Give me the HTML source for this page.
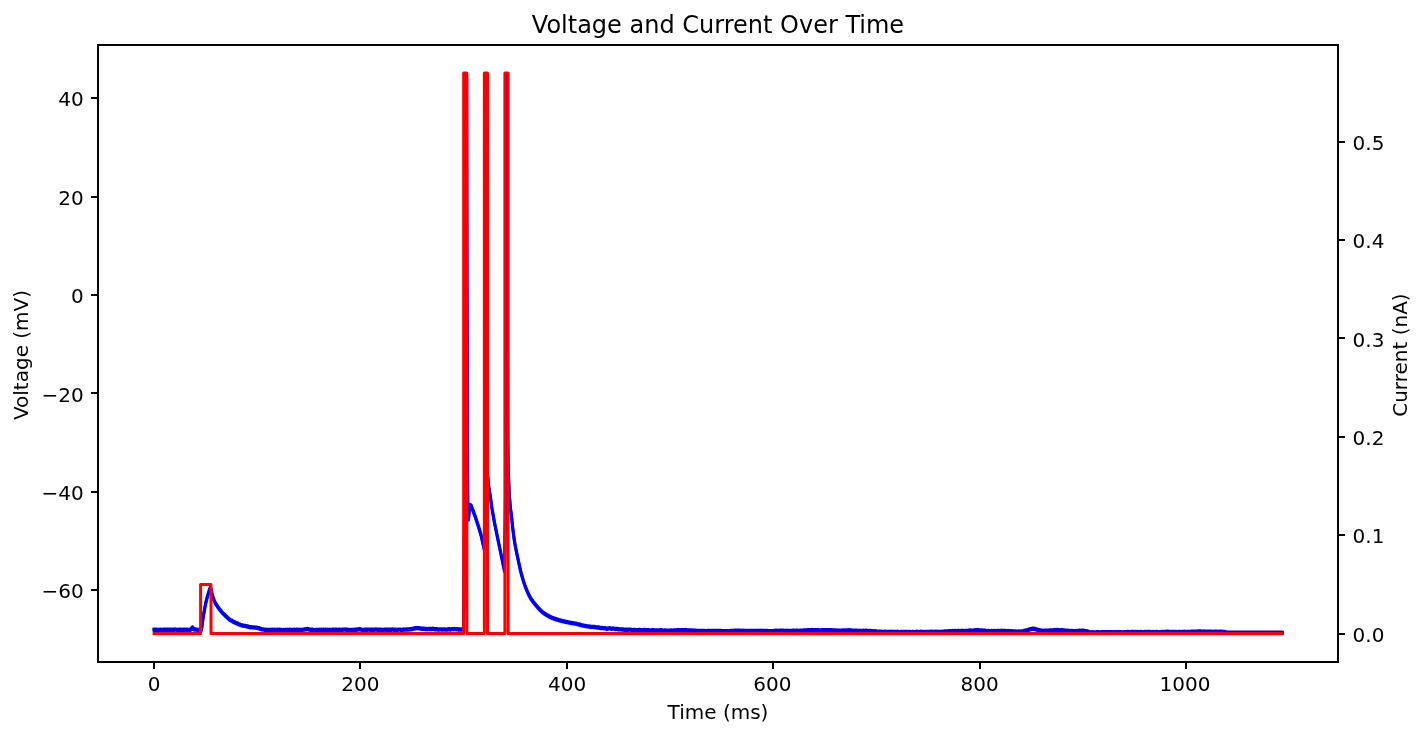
<!DOCTYPE html>
<html lang="en"><head><meta charset="utf-8"><title>Voltage and Current Over Time</title>
<style>
html,body{margin:0;padding:0;background:#fff;}
body{width:1425px;height:736px;overflow:hidden;}
svg{display:block;}
text{font-family:"DejaVu Sans","Liberation Sans",sans-serif;fill:#000;}
.tk{font-size:20px;}
.ttl{font-size:24px;}
.ax{stroke:#000;stroke-width:2;fill:none;}
</style></head><body>
<svg width="1425" height="736" viewBox="0 0 1425 736">
<rect x="0" y="0" width="1425" height="736" fill="#fff"/>
<g class="ax">
<line x1="154" y1="662.0" x2="154" y2="669.0"/>
<line x1="360" y1="662.0" x2="360" y2="669.0"/>
<line x1="567" y1="662.0" x2="567" y2="669.0"/>
<line x1="773" y1="662.0" x2="773" y2="669.0"/>
<line x1="980" y1="662.0" x2="980" y2="669.0"/>
<line x1="1186" y1="662.0" x2="1186" y2="669.0"/>
<line x1="91.0" y1="98" x2="98.0" y2="98"/>
<line x1="91.0" y1="197" x2="98.0" y2="197"/>
<line x1="91.0" y1="295" x2="98.0" y2="295"/>
<line x1="91.0" y1="393" x2="98.0" y2="393"/>
<line x1="91.0" y1="492" x2="98.0" y2="492"/>
<line x1="91.0" y1="590" x2="98.0" y2="590"/>
<line x1="1338.0" y1="142" x2="1345.0" y2="142"/>
<line x1="1338.0" y1="240" x2="1345.0" y2="240"/>
<line x1="1338.0" y1="338" x2="1345.0" y2="338"/>
<line x1="1338.0" y1="437" x2="1345.0" y2="437"/>
<line x1="1338.0" y1="535" x2="1345.0" y2="535"/>
<line x1="1338.0" y1="634" x2="1345.0" y2="634"/>
</g>
<g class="tk">
<text x="154" y="690.7" text-anchor="middle">0</text>
<text x="360.4" y="690.7" text-anchor="middle">200</text>
<text x="567.2" y="690.7" text-anchor="middle">400</text>
<text x="772.4" y="690.7" text-anchor="middle">600</text>
<text x="979.6" y="690.7" text-anchor="middle">800</text>
<text x="1185" y="690.7" text-anchor="middle">1000</text>
<text x="83.7" y="105.6" text-anchor="end">40</text>
<text x="83.7" y="204.6" text-anchor="end">20</text>
<text x="83.7" y="302.6" text-anchor="end">0</text>
<text x="83.7" y="401.6" text-anchor="end">−20</text>
<text x="83.7" y="499.6" text-anchor="end">−40</text>
<text x="83.7" y="597.6" text-anchor="end">−60</text>
<text x="1352.6" y="149.6" text-anchor="start">0.5</text>
<text x="1352.6" y="247.6" text-anchor="start">0.4</text>
<text x="1352.6" y="346.6" text-anchor="start">0.3</text>
<text x="1352.6" y="444.6" text-anchor="start">0.2</text>
<text x="1352.6" y="542.6" text-anchor="start">0.1</text>
<text x="1352.6" y="641.6" text-anchor="start">0.0</text>
<text x="718" y="718.5" text-anchor="middle">Time (ms)</text>
<text transform="translate(28,355) rotate(-90)" text-anchor="middle">Voltage (mV)</text>
<text transform="translate(1406.7,355.1) rotate(-90)" text-anchor="middle">Current (nA)</text>
</g>
<text class="ttl" x="718" y="33" text-anchor="middle">Voltage and Current Over Time</text>
<g fill="none" stroke="#0000ff" stroke-width="3" stroke-linejoin="round" stroke-linecap="square">
<polyline transform="translate(0,-0.7)" points="154.0,629.7 154.5,629.6 155.0,629.7 155.5,629.7 156.1,629.7 156.6,629.7 157.1,629.8 157.6,629.9 158.1,629.9 158.6,629.9 159.2,629.8 159.7,629.9 160.2,629.8 160.7,629.8 161.2,629.8 161.7,629.9 162.3,630.0 162.8,629.9 163.3,629.7 163.8,629.7 164.3,629.8 164.8,629.8 165.4,629.8 165.9,629.8 166.4,629.8 166.9,629.8 167.4,629.7 167.9,629.9 168.4,629.9 169.0,629.8 169.5,629.8 170.0,629.8 170.5,629.8 171.0,629.8 171.5,629.7 172.1,629.7 172.6,629.7 173.1,629.8 173.6,629.8 174.1,629.8 174.6,629.6 175.2,629.5 175.7,629.6 176.2,629.7 176.7,629.8 177.2,629.9 177.7,629.9 178.3,629.8 178.8,629.8 179.3,629.8 179.8,629.7 180.3,629.7 180.8,629.7 181.3,629.8 181.9,629.9 182.4,629.8 182.9,629.8 183.4,629.8 183.9,629.8 184.4,629.8 185.0,629.9 185.5,629.8 186.0,629.7 186.5,629.7 187.0,629.9 187.5,629.8 188.1,629.8 188.6,629.9 189.1,629.9 189.6,629.8 190.1,629.8 190.6,629.7 191.2,629.2 191.7,628.3 192.2,627.6 192.7,627.5 193.2,628.3 193.7,629.1 194.2,629.6 194.8,629.6 195.3,629.5 195.8,629.5 196.3,629.6 196.8,629.6 197.3,629.8 197.9,630.0 198.4,630.0 198.9,629.9 199.4,629.7 199.9,629.5 200.4,629.4 201.0,629.5 201.5,629.7 202.0,625.8 202.5,622.0 203.0,618.4 203.5,615.1 204.1,612.1 204.6,609.2 205.1,606.4 205.6,603.8 206.1,601.6 206.6,599.6 207.1,597.7 207.7,595.7 208.2,593.8 208.7,592.2 209.2,590.7 209.7,589.3 210.2,588.0 210.8,588.2 211.3,590.5 211.8,592.8 212.3,594.8 212.8,596.6 213.3,598.3 213.9,599.8 214.4,601.1 214.9,602.2 215.4,603.2 215.9,604.0 216.4,604.9 217.0,605.7 217.5,606.5 218.0,607.3 218.5,608.0 219.0,608.5 219.5,609.2 220.0,609.9 220.6,610.5 221.1,611.1 221.6,611.8 222.1,612.4 222.6,612.9 223.1,613.5 223.7,614.0 224.2,614.5 224.7,615.0 225.2,615.6 225.7,616.1 226.2,616.5 226.8,616.9 227.3,617.5 227.8,618.0 228.3,618.4 228.8,618.8 229.3,619.3 229.9,619.8 230.4,620.1 230.9,620.3 231.4,620.6 231.9,620.7 232.4,621.1 232.9,621.5 233.5,621.9 234.0,622.1 234.5,622.2 235.0,622.5 235.5,622.8 236.0,623.0 236.6,623.1 237.1,623.3 237.6,623.6 238.1,624.0 238.6,624.3 239.1,624.4 239.7,624.5 240.2,624.8 240.7,625.0 241.2,625.2 241.7,625.3 242.2,625.4 242.8,625.5 243.3,625.7 243.8,625.8 244.3,625.9 244.8,625.9 245.3,625.9 245.8,626.1 246.4,626.2 246.9,626.4 247.4,626.5 247.9,626.5 248.4,626.8 248.9,626.9 249.5,627.0 250.0,627.2 250.5,627.2 251.0,627.1 251.5,627.2 252.0,627.3 252.6,627.4 253.1,627.4 253.6,627.4 254.1,627.4 254.6,627.4 255.1,627.5 255.7,627.6 256.2,627.6 256.7,627.7 257.2,627.9 257.7,628.1 258.2,628.1 258.7,628.2 259.3,628.3 259.8,628.6 260.3,628.8 260.8,628.9 261.3,629.1 261.8,629.3 262.4,629.3 262.9,629.4 263.4,629.5 263.9,629.6 264.4,629.7 264.9,629.7 265.5,629.7 266.0,629.7 266.5,629.8 267.0,629.9 267.5,630.0 268.0,630.0 268.6,630.0 269.1,630.0 269.6,630.0 270.1,629.9 270.6,629.8 271.1,629.9 271.6,629.9 272.2,629.8 272.7,629.8 273.2,629.9 273.7,630.1 274.2,630.0 274.7,629.8 275.3,629.9 275.8,630.0 276.3,630.0 276.8,629.8 277.3,629.7 277.8,629.8 278.4,629.9 278.9,629.8 279.4,629.7 279.9,629.9 280.4,630.0 280.9,629.9 281.5,630.0 282.0,630.1 282.5,630.2 283.0,630.1 283.5,630.0 284.0,630.1 284.5,630.1 285.1,630.0 285.6,630.0 286.1,629.9 286.6,629.9 287.1,630.1 287.6,630.0 288.2,629.9 288.7,629.9 289.2,629.8 289.7,629.8 290.2,629.8 290.7,629.9 291.3,630.0 291.8,630.0 292.3,629.9 292.8,629.9 293.3,629.9 293.8,629.8 294.4,629.8 294.9,629.8 295.4,629.9 295.9,629.9 296.4,629.8 296.9,629.8 297.4,629.8 298.0,629.8 298.5,629.9 299.0,629.9 299.5,629.8 300.0,629.9 300.5,629.9 301.1,629.9 301.6,629.9 302.1,629.9 302.6,629.8 303.1,629.7 303.6,629.6 304.2,629.5 304.7,629.4 305.2,629.4 305.7,629.3 306.2,629.1 306.7,629.1 307.3,629.0 307.8,629.1 308.3,629.2 308.8,629.4 309.3,629.6 309.8,629.6 310.3,629.7 310.9,629.8 311.4,629.9 311.9,629.7 312.4,629.7 312.9,629.9 313.4,630.1 314.0,630.1 314.5,630.1 315.0,630.1 315.5,630.0 316.0,630.0 316.5,629.9 317.1,629.9 317.6,630.0 318.1,629.9 318.6,629.8 319.1,629.9 319.6,629.8 320.2,629.8 320.7,629.9 321.2,629.8 321.7,629.7 322.2,629.8 322.7,629.9 323.2,629.8 323.8,629.8 324.3,629.9 324.8,629.9 325.3,629.7 325.8,629.8 326.3,629.9 326.9,629.9 327.4,629.8 327.9,629.8 328.4,629.9 328.9,630.0 329.4,629.9 330.0,629.8 330.5,629.9 331.0,629.9 331.5,629.9 332.0,629.8 332.5,629.8 333.1,629.8 333.6,629.8 334.1,629.8 334.6,629.8 335.1,629.8 335.6,629.8 336.1,629.7 336.7,629.8 337.2,629.9 337.7,629.9 338.2,629.9 338.7,629.7 339.2,629.7 339.8,629.8 340.3,630.0 340.8,630.1 341.3,629.9 341.8,629.8 342.3,629.8 342.9,629.6 343.4,629.6 343.9,629.7 344.4,629.6 344.9,629.5 345.4,629.6 346.0,629.7 346.5,629.8 347.0,629.8 347.5,629.7 348.0,629.8 348.5,630.0 349.0,630.1 349.6,630.0 350.1,629.9 350.6,629.9 351.1,629.9 351.6,630.0 352.1,630.0 352.7,629.9 353.2,629.9 353.7,629.9 354.2,629.9 354.7,629.8 355.2,629.7 355.8,629.8 356.3,629.8 356.8,629.6 357.3,629.5 357.8,629.5 358.3,629.4 358.9,629.3 359.4,629.2 359.9,629.3 360.4,629.3 360.9,629.5 361.4,629.6 361.9,629.8 362.5,630.0 363.0,630.1 363.5,630.0 364.0,629.9 364.5,629.8 365.0,629.7 365.6,629.7 366.1,629.7 366.6,629.7 367.1,629.7 367.6,629.7 368.1,629.6 368.7,629.6 369.2,629.6 369.7,629.7 370.2,629.8 370.7,629.8 371.2,629.8 371.8,629.7 372.3,629.7 372.8,629.7 373.3,629.9 373.8,629.9 374.3,629.7 374.8,629.6 375.4,629.6 375.9,629.5 376.4,629.6 376.9,629.7 377.4,629.7 377.9,629.7 378.5,629.7 379.0,629.7 379.5,629.7 380.0,629.7 380.5,629.7 381.0,629.7 381.6,629.8 382.1,629.9 382.6,629.9 383.1,629.9 383.6,629.8 384.1,629.7 384.7,629.6 385.2,629.6 385.7,629.7 386.2,629.8 386.7,629.7 387.2,629.7 387.7,629.7 388.3,629.7 388.8,629.8 389.3,629.7 389.8,629.7 390.3,629.8 390.8,629.8 391.4,629.7 391.9,629.5 392.4,629.5 392.9,629.6 393.4,629.7 393.9,629.7 394.5,629.6 395.0,629.7 395.5,629.9 396.0,629.8 396.5,629.8 397.0,629.9 397.6,629.9 398.1,629.8 398.6,629.7 399.1,629.6 399.6,629.6 400.1,629.7 400.6,629.8 401.2,629.9 401.7,629.9 402.2,629.9 402.7,629.8 403.2,629.6 403.7,629.5 404.3,629.6 404.8,629.6 405.3,629.6 405.8,629.6 406.3,629.5 406.8,629.5 407.4,629.5 407.9,629.5 408.4,629.5 408.9,629.4 409.4,629.3 409.9,629.2 410.5,629.3 411.0,629.2 411.5,629.1 412.0,629.0 412.5,629.0 413.0,628.8 413.5,628.6 414.1,628.6 414.6,628.4 415.1,628.2 415.6,628.2 416.1,628.2 416.6,628.1 417.2,628.1 417.7,628.2 418.2,628.1 418.7,628.1 419.2,628.3 419.7,628.4 420.3,628.5 420.8,628.5 421.3,628.6 421.8,628.8 422.3,628.8 422.8,628.8 423.4,628.8 423.9,628.8 424.4,628.8 424.9,628.9 425.4,629.0 425.9,629.0 426.4,629.0 427.0,629.1 427.5,629.2 428.0,629.1 428.5,629.0 429.0,629.0 429.5,629.0 430.1,629.0 430.6,629.0 431.1,629.1 431.6,629.1 432.1,628.9 432.6,628.8 433.2,628.8 433.7,629.0 434.2,629.2 434.7,629.3 435.2,629.2 435.7,629.2 436.3,629.3 436.8,629.3 437.3,629.3 437.8,629.5 438.3,629.7 438.8,629.6 439.3,629.4 439.9,629.4 440.4,629.4 440.9,629.4 441.4,629.4 441.9,629.5 442.4,629.6 443.0,629.5 443.5,629.4 444.0,629.4 444.5,629.4 445.0,629.5 445.5,629.6 446.1,629.6 446.6,629.6 447.1,629.6 447.6,629.5 448.1,629.4 448.6,629.2 449.2,629.2 449.7,629.4 450.2,629.5 450.7,629.4 451.2,629.3 451.7,629.2 452.2,629.1 452.8,629.1 453.3,629.2 453.8,629.1 454.3,629.0 454.8,629.1 455.3,629.1 455.9,629.1 456.4,629.1 456.9,629.3 457.4,629.3 457.9,629.3 458.4,629.5 459.0,629.5 459.5,629.5 460.0,629.5 460.5,629.4 461.0,629.4 461.5,629.5 462.1,629.6 462.6,629.6 463.1,629.6 463.4,629.6 464.0,600.0 465.2,400.0 466.6,75.5 467.0,300.0 467.4,420.0 467.8,505.0 468.5,519.5 469.3,510.0 470.3,505.0 471.2,505.8 472.0,508.0 475.0,516.0 478.3,526.0 481.0,535.0 484.2,549.0 485.0,500.0 485.9,380.0 486.9,75.5 487.0,300.0 487.3,472.0 488.6,486.0 490.2,495.5 491.7,507.0 494.6,523.3 499.5,547.0 504.5,571.0 505.3,520.0 506.5,380.0 507.3,75.5 507.4,300.0 507.7,440.0 508.3,472.0 509.3,495.0 510.3,507.0 511.5,516.2 512.0,521.1 512.5,525.7 513.0,530.2 513.5,534.3 514.0,538.0 514.5,541.3 515.0,544.3 515.5,547.0 516.0,549.6 516.5,552.1 517.0,554.4 517.5,556.7 518.0,559.1 518.5,561.4 519.0,563.8 519.5,566.1 520.0,568.4 520.5,570.5 521.0,572.5 521.5,574.4 522.0,576.2 522.5,578.0 523.0,579.7 523.5,581.3 524.0,582.8 524.5,584.3 525.0,585.7 525.5,587.0 526.0,588.3 526.5,589.6 527.0,590.8 527.5,591.9 528.0,593.0 528.5,594.1 529.0,595.1 529.5,596.1 530.0,597.0 530.5,597.9 531.0,598.7 531.5,599.5 532.0,600.2 532.5,600.9 533.0,601.6 533.5,602.3 534.0,602.9 534.5,603.5 535.0,604.1 535.5,604.7 536.0,605.3 536.5,605.9 537.0,606.5 537.5,607.0 538.0,607.6 538.5,608.2 539.0,608.7 539.5,609.3 540.0,609.8 540.5,610.3 541.0,610.8 541.5,611.3 542.0,611.7 542.5,612.1 543.0,612.5 543.5,612.9 544.0,613.3 544.5,613.6 545.0,614.0 545.5,614.3 546.0,614.6 546.5,614.9 547.0,615.2 547.5,615.5 548.0,615.8 548.5,616.1 549.0,616.4 549.5,616.6 550.0,616.9 550.5,617.1 551.0,617.3 551.5,617.6 552.0,617.8 552.5,618.0 553.0,618.2 553.5,618.4 554.0,618.6 554.5,618.7 555.0,618.9 555.5,619.1 556.0,619.2 556.5,619.4 557.0,619.6 557.5,619.7 558.0,619.9 558.5,620.0 559.0,620.2 559.5,620.3 560.0,620.4 560.5,620.6 561.0,620.7 561.5,620.8 562.0,621.0 562.5,621.1 563.0,621.2 563.5,621.3 564.0,621.4 564.5,621.5 565.0,621.6 565.5,621.8 566.0,621.9 566.5,622.0 567.0,622.1 567.5,622.2 568.0,622.3 568.5,622.4 569.0,622.5 569.5,622.6 570.0,622.7 570.5,622.8 571.0,622.9 571.5,623.0 572.0,623.0 572.5,623.1 573.0,623.2 573.5,623.3 574.0,623.4 574.5,623.5 575.0,623.6 575.5,623.6 576.0,623.7 576.5,623.9 577.0,624.0 577.5,624.2 578.0,624.3 578.5,624.4 579.0,624.5 579.5,624.6 580.0,624.7 580.5,624.9 581.0,625.0 581.5,625.2 582.0,625.3 582.5,625.4 583.0,625.5 583.5,625.6 584.0,625.7 584.5,625.8 585.0,625.9 585.5,626.0 586.0,626.1 586.5,626.2 587.0,626.3 587.5,626.4 588.0,626.4 588.5,626.5 589.0,626.5 589.5,626.6 590.0,626.7 590.5,626.7 591.0,626.8 591.5,626.9 592.0,626.9 592.5,626.9 593.0,626.9 593.5,626.9 594.0,627.0 594.5,627.0 595.0,627.1 595.5,627.2 596.0,627.3 596.5,627.4 597.0,627.5 597.5,627.5 598.0,627.4 598.5,627.4 599.0,627.6 599.5,627.8 600.0,627.9 600.5,628.0 601.0,627.9 601.5,627.9 602.0,628.0 602.5,628.1 603.0,628.1 603.5,628.2 604.0,628.2 604.5,628.1 605.0,628.1 605.5,628.3 606.0,628.5 606.5,628.8 607.0,628.8 607.5,628.7 608.0,628.5 608.5,628.4 609.0,628.3 609.5,628.3 610.0,628.4 610.5,628.5 611.0,628.7 611.5,628.8 612.0,628.7 612.5,628.6 613.0,628.5 613.5,628.5 614.0,628.7 614.5,628.8 615.0,629.0 615.5,629.0 616.0,628.9 616.5,628.9 617.0,628.9 617.5,629.0 618.0,629.2 618.5,629.3 619.0,629.3 619.5,629.3 620.0,629.4 620.5,629.4 621.0,629.4 621.5,629.3 622.0,629.4 622.5,629.5 623.0,629.5 623.5,629.6 624.0,629.7 624.5,629.8 625.0,629.8 625.5,629.8 626.0,629.8 626.5,629.8 627.0,629.8 627.5,629.8 628.0,629.7 628.5,629.7 629.0,629.6 629.5,629.6 630.0,629.6 630.5,629.7 631.0,629.8 631.5,630.0 632.0,630.1 632.5,630.1 633.0,630.1 633.5,630.0 634.0,629.9 634.5,629.9 635.0,630.0 635.5,630.2 636.0,630.3 636.5,630.2 637.0,630.1 637.5,630.1 638.0,630.1 638.5,630.1 639.0,630.0 639.5,630.0 640.0,630.0 640.5,630.1 641.0,630.2 641.5,630.2 642.0,630.1 642.5,630.1 643.0,630.1 643.5,630.1 644.0,630.0 644.5,630.0 645.0,630.0 645.5,630.1 646.0,630.2 646.5,630.3 647.0,630.2 647.5,630.2 648.0,630.3 648.5,630.3 649.0,630.3 649.5,630.4 650.0,630.5 650.5,630.5 651.0,630.4 651.5,630.3 652.0,630.2 652.5,630.2 653.0,630.2 653.5,630.2 654.0,630.3 654.5,630.4 655.0,630.4 655.5,630.4 656.0,630.5 656.5,630.5 657.0,630.5 657.5,630.5 658.0,630.4 658.5,630.5 659.0,630.5 659.5,630.6 660.0,630.5 660.5,630.3 661.0,630.3 661.5,630.3 662.0,630.5 662.5,630.5 663.3,630.6 663.8,630.6 664.3,630.6 664.8,630.5 665.4,630.5 665.9,630.6 666.4,630.7 666.9,630.7 667.4,630.7 667.9,630.8 668.5,630.7 669.0,630.7 669.5,630.8 670.0,630.8 670.5,630.7 671.0,630.5 671.5,630.5 672.1,630.6 672.6,630.7 673.1,630.6 673.6,630.5 674.1,630.5 674.6,630.5 675.2,630.5 675.7,630.5 676.2,630.4 676.7,630.3 677.2,630.1 677.7,630.1 678.3,630.1 678.8,630.2 679.3,630.4 679.8,630.4 680.3,630.3 680.8,630.2 681.4,630.2 681.9,630.2 682.4,630.3 682.9,630.3 683.4,630.3 683.9,630.2 684.4,630.1 685.0,630.1 685.5,630.2 686.0,630.3 686.5,630.3 687.0,630.3 687.5,630.4 688.1,630.5 688.6,630.4 689.1,630.3 689.6,630.4 690.1,630.4 690.6,630.4 691.2,630.6 691.7,630.6 692.2,630.5 692.7,630.5 693.2,630.6 693.7,630.6 694.3,630.7 694.8,630.7 695.3,630.8 695.8,630.8 696.3,630.8 696.8,630.9 697.3,630.9 697.9,631.0 698.4,631.0 698.9,631.0 699.4,631.0 699.9,631.0 700.4,630.9 701.0,630.9 701.5,630.9 702.0,631.0 702.5,631.0 703.0,630.9 703.5,631.0 704.1,631.0 704.6,631.0 705.1,631.1 705.6,631.1 706.1,631.1 706.6,631.1 707.2,631.0 707.7,631.0 708.2,631.1 708.7,631.0 709.2,631.0 709.7,631.0 710.2,630.9 710.8,630.9 711.3,631.1 711.8,631.1 712.3,631.0 712.8,630.9 713.3,631.0 713.9,630.9 714.4,630.8 714.9,630.9 715.4,630.9 715.9,631.0 716.4,631.1 717.0,631.0 717.5,631.0 718.0,630.9 718.5,630.8 719.0,630.9 719.5,630.9 720.1,630.9 720.6,630.9 721.1,631.0 721.6,631.2 722.1,631.3 722.6,631.1 723.1,631.1 723.7,631.1 724.2,631.2 724.7,631.2 725.2,631.1 725.7,631.1 726.2,631.1 726.8,631.1 727.3,631.1 727.8,631.1 728.3,631.1 728.8,631.1 729.3,631.1 729.9,631.1 730.4,631.0 730.9,631.0 731.4,631.0 731.9,631.0 732.4,630.9 733.0,631.0 733.5,630.9 734.0,630.8 734.5,630.8 735.0,630.8 735.5,630.8 736.0,630.7 736.6,630.6 737.1,630.7 737.6,630.8 738.1,630.8 738.6,630.7 739.1,630.7 739.7,630.6 740.2,630.7 740.7,630.8 741.2,630.9 741.7,630.9 742.2,630.8 742.8,630.8 743.3,630.8 743.8,631.0 744.3,631.1 744.8,631.0 745.3,630.9 745.9,630.9 746.4,630.9 746.9,631.0 747.4,630.9 747.9,630.9 748.4,631.0 748.9,631.1 749.5,631.1 750.0,630.9 750.5,631.0 751.0,631.1 751.5,630.9 752.0,630.9 752.6,631.1 753.1,631.1 753.6,630.9 754.1,630.9 754.6,631.1 755.1,631.1 755.7,630.9 756.2,630.8 756.7,631.0 757.2,631.0 757.7,631.0 758.2,631.0 758.8,630.9 759.3,630.9 759.8,631.1 760.3,631.0 760.8,630.8 761.3,630.9 761.8,631.0 762.4,630.9 762.9,630.8 763.4,630.9 763.9,631.0 764.4,630.9 764.9,630.9 765.5,630.9 766.0,631.0 766.5,631.0 767.0,631.0 767.5,631.0 768.0,631.1 768.6,631.2 769.1,631.1 769.6,631.1 770.1,631.1 770.6,631.2 771.1,631.2 771.7,631.2 772.2,631.3 772.7,631.2 773.2,631.0 773.7,631.0 774.2,631.1 774.7,631.0 775.3,630.9 775.8,630.7 776.3,630.7 776.8,630.9 777.3,631.0 777.8,630.9 778.4,630.8 778.9,630.9 779.4,630.8 779.9,630.8 780.4,630.8 780.9,630.7 781.5,630.6 782.0,630.6 782.5,630.6 783.0,630.6 783.5,630.8 784.0,630.9 784.6,630.9 785.1,630.9 785.6,630.8 786.1,630.8 786.6,630.9 787.1,630.9 787.6,630.9 788.2,630.8 788.7,630.9 789.2,630.9 789.7,630.9 790.2,631.1 790.7,631.1 791.3,631.0 791.8,630.8 792.3,630.7 792.8,630.8 793.3,630.8 793.8,630.7 794.4,630.8 794.9,630.9 795.4,630.8 795.9,630.7 796.4,630.8 796.9,630.8 797.5,630.7 798.0,630.8 798.5,630.9 799.0,630.9 799.5,630.8 800.0,630.7 800.5,630.6 801.1,630.6 801.6,630.7 802.1,630.6 802.6,630.7 803.1,630.8 803.6,630.7 804.2,630.4 804.7,630.3 805.2,630.4 805.7,630.5 806.2,630.6 806.7,630.5 807.3,630.3 807.8,630.3 808.3,630.3 808.8,630.3 809.3,630.3 809.8,630.3 810.4,630.4 810.9,630.3 811.4,630.1 811.9,630.0 812.4,630.2 812.9,630.2 813.4,630.2 814.0,630.2 814.5,630.2 815.0,630.3 815.5,630.3 816.0,630.2 816.5,630.2 817.1,630.2 817.6,630.2 818.1,630.2 818.6,630.1 819.1,630.3 819.6,630.4 820.2,630.4 820.7,630.4 821.2,630.3 821.7,630.2 822.2,630.1 822.7,630.2 823.3,630.3 823.8,630.3 824.3,630.3 824.8,630.3 825.3,630.2 825.8,630.2 826.3,630.2 826.9,630.3 827.4,630.3 827.9,630.3 828.4,630.2 828.9,630.1 829.4,630.1 830.0,630.2 830.5,630.2 831.0,630.1 831.5,630.3 832.0,630.5 832.5,630.4 833.1,630.3 833.6,630.4 834.1,630.5 834.6,630.5 835.1,630.5 835.6,630.5 836.2,630.6 836.7,630.8 837.2,630.7 837.7,630.5 838.2,630.6 838.7,630.6 839.2,630.7 839.8,630.7 840.3,630.6 840.8,630.6 841.3,630.6 841.8,630.7 842.3,630.6 842.9,630.5 843.4,630.5 843.9,630.6 844.4,630.6 844.9,630.5 845.4,630.6 846.0,630.6 846.5,630.5 847.0,630.4 847.5,630.5 848.0,630.4 848.5,630.3 849.1,630.3 849.6,630.3 850.1,630.4 850.6,630.5 851.1,630.5 851.6,630.5 852.1,630.6 852.7,630.8 853.2,630.9 853.7,630.8 854.2,630.6 854.7,630.7 855.2,630.8 855.8,630.8 856.3,630.8 856.8,630.8 857.3,630.8 857.8,630.9 858.3,630.9 858.9,630.9 859.4,630.8 859.9,630.8 860.4,630.9 860.9,630.9 861.4,631.0 862.0,631.0 862.5,631.0 863.0,630.8 863.5,630.7 864.0,630.8 864.5,630.9 865.0,630.9 865.6,630.8 866.1,630.8 866.6,630.8 867.1,631.0 867.6,631.0 868.1,630.9 868.7,630.9 869.2,631.0 869.7,631.0 870.2,631.1 870.7,631.0 871.2,631.0 871.8,631.2 872.3,631.2 872.8,631.2 873.3,631.2 873.8,631.3 874.3,631.4 874.9,631.3 875.4,631.2 875.9,631.4 876.4,631.6 876.9,631.8 877.4,631.8 877.9,631.7 878.5,631.7 879.0,631.7 879.5,631.7 880.0,631.8 880.5,631.7 881.0,631.7 881.6,631.8 882.1,632.0 882.6,632.1 883.1,632.1 883.6,631.9 884.1,631.9 884.7,631.8 885.2,631.8 885.7,631.8 886.2,632.0 886.7,632.0 887.2,631.9 887.8,631.9 888.3,632.0 888.8,632.0 889.3,631.9 889.8,631.8 890.3,631.8 890.8,631.9 891.4,631.9 891.9,631.8 892.4,631.8 892.9,631.9 893.4,631.9 893.9,631.9 894.5,632.0 895.0,632.0 895.5,632.1 896.0,632.0 896.5,631.9 897.0,631.8 897.6,631.8 898.1,632.0 898.6,632.1 899.1,632.2 899.6,632.2 900.1,632.0 900.7,632.0 901.2,632.0 901.7,632.0 902.2,631.9 902.7,631.9 903.2,631.9 903.7,631.9 904.3,631.9 904.8,631.9 905.3,632.0 905.8,632.0 906.3,632.0 906.8,631.9 907.4,632.0 907.9,632.1 908.4,632.1 908.9,632.0 909.4,632.0 909.9,631.9 910.5,632.1 911.0,632.1 911.5,632.1 912.0,632.1 912.5,632.0 913.0,632.0 913.6,632.1 914.1,632.1 914.6,632.2 915.1,632.1 915.6,632.1 916.1,632.1 916.6,631.8 917.2,631.8 917.7,632.0 918.2,632.0 918.7,632.1 919.2,632.1 919.7,632.0 920.3,631.8 920.8,631.7 921.3,631.9 921.8,631.9 922.3,632.0 922.8,632.0 923.4,632.0 923.9,632.1 924.4,632.2 924.9,632.1 925.4,631.9 925.9,631.9 926.5,631.9 927.0,631.9 927.5,631.9 928.0,632.0 928.5,632.0 929.0,632.0 929.5,632.0 930.1,632.0 930.6,631.9 931.1,631.6 931.6,631.7 932.1,631.9 932.6,631.9 933.2,631.9 933.7,631.8 934.2,631.8 934.7,631.9 935.2,631.8 935.7,631.8 936.3,631.8 936.8,631.9 937.3,631.8 937.8,631.8 938.3,631.9 938.8,631.9 939.4,632.0 939.9,632.0 940.4,632.1 940.9,632.0 941.4,631.8 941.9,631.7 942.4,631.7 943.0,631.8 943.5,631.8 944.0,631.7 944.5,631.5 945.0,631.4 945.5,631.5 946.1,631.5 946.6,631.4 947.1,631.4 947.6,631.4 948.1,631.3 948.6,631.2 949.2,631.2 949.7,631.1 950.2,631.1 950.7,631.3 951.2,631.3 951.7,631.1 952.3,631.0 952.8,631.1 953.3,631.2 953.8,631.1 954.3,631.0 954.8,630.9 955.3,631.0 955.9,631.1 956.4,631.2 956.9,631.1 957.4,631.0 957.9,631.0 958.4,631.0 959.0,631.0 959.5,631.0 960.0,631.2 960.5,631.1 961.0,631.0 961.5,631.0 962.1,630.9 962.6,630.8 963.1,630.9 963.6,631.1 964.1,631.2 964.6,631.2 965.2,631.0 965.7,630.9 966.2,630.9 966.7,630.9 967.2,630.9 967.7,630.9 968.2,630.8 968.8,630.7 969.3,630.6 969.8,630.5 970.3,630.5 970.8,630.5 971.3,630.7 971.9,630.6 972.4,630.6 972.9,630.7 973.4,630.6 973.9,630.5 974.4,630.5 975.0,630.4 975.5,630.3 976.0,630.3 976.5,630.1 977.0,630.1 977.5,630.2 978.1,630.3 978.6,630.3 979.1,630.3 979.6,630.4 980.1,630.5 980.6,630.6 981.1,630.6 981.7,630.5 982.2,630.5 982.7,630.6 983.2,630.6 983.7,630.7 984.2,630.9 984.8,630.8 985.3,630.8 985.8,631.0 986.3,631.1 986.8,631.1 987.3,631.1 987.9,631.0 988.4,630.9 988.9,631.0 989.4,631.1 989.9,631.2 990.4,631.1 991.0,631.1 991.5,631.0 992.0,631.0 992.5,631.2 993.0,631.2 993.5,631.0 994.0,631.0 994.6,631.0 995.1,631.1 995.6,631.2 996.1,631.2 996.6,631.0 997.1,631.0 997.7,630.9 998.2,631.0 998.7,631.1 999.2,631.1 999.7,631.0 1000.2,631.0 1000.8,631.0 1001.3,631.1 1001.8,630.9 1002.3,630.8 1002.8,630.9 1003.3,630.9 1003.9,630.9 1004.4,631.0 1004.9,631.0 1005.4,631.0 1005.9,631.1 1006.4,631.2 1006.9,631.2 1007.5,631.1 1008.0,631.0 1008.5,631.0 1009.0,631.2 1009.5,631.2 1010.0,631.2 1010.6,631.2 1011.1,631.2 1011.6,631.1 1012.1,631.2 1012.6,631.5 1013.1,631.5 1013.7,631.4 1014.2,631.5 1014.7,631.5 1015.2,631.4 1015.7,631.5 1016.2,631.7 1016.8,631.6 1017.3,631.6 1017.8,631.6 1018.3,631.5 1018.8,631.5 1019.3,631.6 1019.8,631.6 1020.4,631.5 1020.9,631.4 1021.4,631.4 1021.9,631.4 1022.4,631.4 1022.9,631.3 1023.5,631.1 1024.0,630.9 1024.5,631.0 1025.0,630.9 1025.5,630.6 1026.0,630.4 1026.6,630.4 1027.1,630.3 1027.6,630.1 1028.1,629.9 1028.6,629.9 1029.1,629.7 1029.7,629.5 1030.2,629.2 1030.7,629.1 1031.2,629.1 1031.7,629.0 1032.2,628.8 1032.7,628.6 1033.3,628.6 1033.8,628.8 1034.3,628.8 1034.8,629.0 1035.3,629.1 1035.8,629.3 1036.4,629.4 1036.9,629.6 1037.4,629.6 1037.9,629.9 1038.4,630.2 1038.9,630.1 1039.5,630.3 1040.0,630.5 1040.5,630.5 1041.0,630.5 1041.5,630.5 1042.0,630.7 1042.6,630.9 1043.1,630.9 1043.6,630.8 1044.1,630.8 1044.6,630.7 1045.1,630.7 1045.6,630.7 1046.2,630.7 1046.7,630.8 1047.2,630.8 1047.7,630.7 1048.2,630.7 1048.7,630.6 1049.3,630.5 1049.8,630.5 1050.3,630.4 1050.8,630.5 1051.3,630.5 1051.8,630.5 1052.4,630.5 1052.9,630.4 1053.4,630.3 1053.9,630.2 1054.4,630.2 1054.9,630.2 1055.5,630.2 1056.0,630.2 1056.5,630.2 1057.0,630.0 1057.5,630.0 1058.0,630.1 1058.5,630.2 1059.1,630.3 1059.6,630.3 1060.1,630.4 1060.6,630.3 1061.1,630.2 1061.6,630.2 1062.2,630.2 1062.7,630.3 1063.2,630.4 1063.7,630.5 1064.2,630.5 1064.7,630.6 1065.3,630.7 1065.8,630.7 1066.3,630.8 1066.8,630.8 1067.3,630.7 1067.8,630.8 1068.4,630.9 1068.9,631.0 1069.4,630.9 1069.9,631.0 1070.4,631.2 1070.9,631.1 1071.4,631.0 1072.0,631.0 1072.5,631.0 1073.0,631.1 1073.5,631.3 1074.0,631.3 1074.5,631.2 1075.1,631.2 1075.6,631.2 1076.1,631.1 1076.6,631.1 1077.1,631.0 1077.6,631.0 1078.2,631.1 1078.7,631.0 1079.2,630.9 1079.7,630.7 1080.2,630.9 1080.7,631.1 1081.3,630.9 1081.8,630.7 1082.3,630.6 1082.8,630.7 1083.3,630.7 1083.8,630.8 1084.3,630.9 1084.9,631.1 1085.4,631.1 1085.9,631.1 1086.4,631.2 1086.9,631.4 1087.4,631.4 1088.0,631.6 1088.5,631.9 1089.0,632.0 1089.5,632.1 1090.0,632.3 1090.5,632.5 1091.1,632.4 1091.6,632.4 1092.1,632.3 1092.6,632.2 1093.1,632.3 1093.6,632.4 1094.2,632.5 1094.7,632.6 1095.2,632.5 1095.7,632.4 1096.2,632.4 1096.7,632.2 1097.2,632.1 1097.8,632.1 1098.3,632.2 1098.8,632.2 1099.3,632.3 1099.8,632.4 1100.3,632.4 1100.9,632.3 1101.4,632.2 1101.9,632.2 1102.4,632.2 1102.9,632.1 1103.4,632.2 1104.0,632.2 1104.5,632.3 1105.0,632.3 1105.5,632.3 1106.0,632.1 1106.5,632.1 1107.1,632.1 1107.6,632.1 1108.1,632.1 1108.6,632.2 1109.1,632.3 1109.6,632.2 1110.1,632.1 1110.7,632.1 1111.2,632.2 1111.7,632.3 1112.2,632.3 1112.7,632.3 1113.2,632.3 1113.8,632.4 1114.3,632.3 1114.8,632.2 1115.3,632.1 1115.8,632.2 1116.3,632.2 1116.9,632.2 1117.4,632.2 1117.9,632.3 1118.4,632.3 1118.9,632.1 1119.4,632.1 1120.0,632.2 1120.5,632.3 1121.0,632.3 1121.5,632.3 1122.0,632.3 1122.5,632.4 1123.0,632.4 1123.6,632.3 1124.1,632.2 1124.6,632.2 1125.1,632.3 1125.6,632.3 1126.1,632.3 1126.7,632.2 1127.2,632.0 1127.7,631.9 1128.2,632.0 1128.7,632.1 1129.2,632.1 1129.8,632.1 1130.3,632.1 1130.8,632.1 1131.3,632.0 1131.8,631.9 1132.3,632.0 1132.9,632.1 1133.4,631.9 1133.9,632.0 1134.4,632.1 1134.9,632.1 1135.4,632.0 1135.9,632.0 1136.5,632.1 1137.0,632.1 1137.5,632.0 1138.0,632.1 1138.5,632.1 1139.0,632.2 1139.6,632.2 1140.1,632.0 1140.6,631.9 1141.1,632.1 1141.6,632.3 1142.1,632.2 1142.7,632.2 1143.2,632.2 1143.7,632.1 1144.2,632.1 1144.7,632.0 1145.2,632.0 1145.8,632.1 1146.3,632.1 1146.8,632.0 1147.3,631.9 1147.8,631.9 1148.3,632.0 1148.8,632.0 1149.4,632.0 1149.9,631.9 1150.4,632.0 1150.9,632.1 1151.4,632.1 1151.9,632.1 1152.5,632.1 1153.0,632.0 1153.5,632.0 1154.0,632.1 1154.5,632.2 1155.0,632.2 1155.6,632.0 1156.1,631.9 1156.6,631.9 1157.1,632.1 1157.6,632.3 1158.1,632.3 1158.7,632.2 1159.2,632.2 1159.7,632.2 1160.2,632.2 1160.7,632.2 1161.2,632.0 1161.7,631.9 1162.3,632.0 1162.8,632.1 1163.3,632.1 1163.8,632.0 1164.3,631.9 1164.8,632.0 1165.4,632.0 1165.9,632.0 1166.4,631.7 1166.9,631.6 1167.4,631.7 1167.9,631.7 1168.5,631.8 1169.0,632.0 1169.5,632.0 1170.0,631.9 1170.5,632.0 1171.0,632.1 1171.6,632.0 1172.1,632.0 1172.6,631.9 1173.1,631.8 1173.6,631.9 1174.1,632.0 1174.6,632.1 1175.2,632.0 1175.7,631.9 1176.2,632.0 1176.7,632.1 1177.2,632.1 1177.7,632.1 1178.3,632.0 1178.8,632.0 1179.3,632.0 1179.8,632.0 1180.3,632.0 1180.8,632.1 1181.4,632.2 1181.9,632.0 1182.4,632.0 1182.9,632.1 1183.4,631.9 1183.9,631.8 1184.5,631.8 1185.0,631.9 1185.5,632.0 1186.0,631.9 1186.5,632.0 1187.0,632.1 1187.5,632.0 1188.1,631.8 1188.6,631.9 1189.1,632.0 1189.6,632.0 1190.1,631.9 1190.6,631.8 1191.2,631.8 1191.7,631.7 1192.2,631.8 1192.7,631.8 1193.2,631.8 1193.7,631.7 1194.3,631.7 1194.8,631.6 1195.3,631.7 1195.8,631.7 1196.3,631.7 1196.8,631.6 1197.4,631.6 1197.9,631.5 1198.4,631.4 1198.9,631.4 1199.4,631.5 1199.9,631.5 1200.4,631.5 1201.0,631.5 1201.5,631.6 1202.0,631.6 1202.5,631.6 1203.0,631.6 1203.5,631.6 1204.1,631.5 1204.6,631.6 1205.1,631.6 1205.6,631.7 1206.1,631.8 1206.6,631.7 1207.2,631.6 1207.7,631.6 1208.2,631.6 1208.7,631.7 1209.2,631.8 1209.7,631.7 1210.3,631.7 1210.8,631.8 1211.3,631.7 1211.8,631.8 1212.3,631.9 1212.8,632.0 1213.3,631.9 1213.9,631.8 1214.4,631.7 1214.9,631.8 1215.4,631.8 1215.9,631.8 1216.4,631.7 1217.0,631.7 1217.5,631.8 1218.0,631.9 1218.5,631.9 1219.0,631.8 1219.5,631.6 1220.1,631.6 1220.6,631.6 1221.1,631.7 1221.6,631.8 1222.1,631.8 1222.6,631.9 1223.2,631.9 1223.7,631.9 1224.2,631.9 1224.7,632.0 1225.2,632.2 1225.7,632.4 1226.2,632.4 1226.8,632.6 1227.3,632.7 1227.8,632.7 1228.3,632.7 1228.8,632.8 1229.3,632.8 1229.9,632.8 1230.4,632.8 1230.9,632.8 1231.4,632.8 1231.9,632.8 1232.4,632.8 1233.0,632.8 1233.5,632.8 1234.0,632.8 1234.5,632.8 1235.0,632.8 1235.5,632.8 1236.1,632.8 1236.6,632.8 1237.1,632.8 1237.6,632.8 1238.1,632.8 1238.6,632.8 1239.1,632.8 1239.7,632.8 1240.2,632.8 1240.7,632.8 1241.2,632.8 1241.7,632.8 1242.2,632.8 1242.8,632.8 1243.3,632.8 1243.8,632.8 1244.3,632.8 1244.8,632.8 1245.3,632.8 1245.9,632.8 1246.4,632.8 1246.9,632.8 1247.4,632.8 1247.9,632.8 1248.4,632.8 1249.0,632.8 1249.5,632.8 1250.0,632.8 1250.5,632.8 1251.0,632.8 1251.5,632.8 1252.0,632.8 1252.6,632.8 1253.1,632.8 1253.6,632.8 1254.1,632.8 1254.6,632.8 1255.1,632.8 1255.7,632.8 1256.2,632.8 1256.7,632.8 1257.2,632.8 1257.7,632.8 1258.2,632.8 1258.8,632.8 1259.3,632.8 1259.8,632.8 1260.3,632.8 1260.8,632.8 1261.3,632.8 1261.9,632.8 1262.4,632.8 1262.9,632.8 1263.4,632.8 1263.9,632.8 1264.4,632.8 1264.9,632.8 1265.5,632.8 1266.0,632.8 1266.5,632.8 1267.0,632.8 1267.5,632.8 1268.0,632.8 1268.6,632.8 1269.1,632.8 1269.6,632.8 1270.1,632.8 1270.6,632.8 1271.1,632.8 1271.7,632.8 1272.2,632.8 1272.7,632.8 1273.2,632.8 1273.7,632.8 1274.2,632.8 1274.8,632.8 1275.3,632.8 1275.8,632.8 1276.3,632.8 1276.8,632.8 1277.3,632.8 1277.8,632.8 1278.4,632.8 1278.9,632.8 1279.4,632.8 1279.9,632.8 1280.4,632.8 1280.9,632.8 1282.3,632.9"/>
<polyline transform="translate(0,0.7)" points="154.0,629.7 154.5,629.6 155.0,629.7 155.5,629.7 156.1,629.7 156.6,629.7 157.1,629.8 157.6,629.9 158.1,629.9 158.6,629.9 159.2,629.8 159.7,629.9 160.2,629.8 160.7,629.8 161.2,629.8 161.7,629.9 162.3,630.0 162.8,629.9 163.3,629.7 163.8,629.7 164.3,629.8 164.8,629.8 165.4,629.8 165.9,629.8 166.4,629.8 166.9,629.8 167.4,629.7 167.9,629.9 168.4,629.9 169.0,629.8 169.5,629.8 170.0,629.8 170.5,629.8 171.0,629.8 171.5,629.7 172.1,629.7 172.6,629.7 173.1,629.8 173.6,629.8 174.1,629.8 174.6,629.6 175.2,629.5 175.7,629.6 176.2,629.7 176.7,629.8 177.2,629.9 177.7,629.9 178.3,629.8 178.8,629.8 179.3,629.8 179.8,629.7 180.3,629.7 180.8,629.7 181.3,629.8 181.9,629.9 182.4,629.8 182.9,629.8 183.4,629.8 183.9,629.8 184.4,629.8 185.0,629.9 185.5,629.8 186.0,629.7 186.5,629.7 187.0,629.9 187.5,629.8 188.1,629.8 188.6,629.9 189.1,629.9 189.6,629.8 190.1,629.8 190.6,629.7 191.2,629.2 191.7,628.3 192.2,627.6 192.7,627.5 193.2,628.3 193.7,629.1 194.2,629.6 194.8,629.6 195.3,629.5 195.8,629.5 196.3,629.6 196.8,629.6 197.3,629.8 197.9,630.0 198.4,630.0 198.9,629.9 199.4,629.7 199.9,629.5 200.4,629.4 201.0,629.5 201.5,629.7 202.0,625.8 202.5,622.0 203.0,618.4 203.5,615.1 204.1,612.1 204.6,609.2 205.1,606.4 205.6,603.8 206.1,601.6 206.6,599.6 207.1,597.7 207.7,595.7 208.2,593.8 208.7,592.2 209.2,590.7 209.7,589.3 210.2,588.0 210.8,588.2 211.3,590.5 211.8,592.8 212.3,594.8 212.8,596.6 213.3,598.3 213.9,599.8 214.4,601.1 214.9,602.2 215.4,603.2 215.9,604.0 216.4,604.9 217.0,605.7 217.5,606.5 218.0,607.3 218.5,608.0 219.0,608.5 219.5,609.2 220.0,609.9 220.6,610.5 221.1,611.1 221.6,611.8 222.1,612.4 222.6,612.9 223.1,613.5 223.7,614.0 224.2,614.5 224.7,615.0 225.2,615.6 225.7,616.1 226.2,616.5 226.8,616.9 227.3,617.5 227.8,618.0 228.3,618.4 228.8,618.8 229.3,619.3 229.9,619.8 230.4,620.1 230.9,620.3 231.4,620.6 231.9,620.7 232.4,621.1 232.9,621.5 233.5,621.9 234.0,622.1 234.5,622.2 235.0,622.5 235.5,622.8 236.0,623.0 236.6,623.1 237.1,623.3 237.6,623.6 238.1,624.0 238.6,624.3 239.1,624.4 239.7,624.5 240.2,624.8 240.7,625.0 241.2,625.2 241.7,625.3 242.2,625.4 242.8,625.5 243.3,625.7 243.8,625.8 244.3,625.9 244.8,625.9 245.3,625.9 245.8,626.1 246.4,626.2 246.9,626.4 247.4,626.5 247.9,626.5 248.4,626.8 248.9,626.9 249.5,627.0 250.0,627.2 250.5,627.2 251.0,627.1 251.5,627.2 252.0,627.3 252.6,627.4 253.1,627.4 253.6,627.4 254.1,627.4 254.6,627.4 255.1,627.5 255.7,627.6 256.2,627.6 256.7,627.7 257.2,627.9 257.7,628.1 258.2,628.1 258.7,628.2 259.3,628.3 259.8,628.6 260.3,628.8 260.8,628.9 261.3,629.1 261.8,629.3 262.4,629.3 262.9,629.4 263.4,629.5 263.9,629.6 264.4,629.7 264.9,629.7 265.5,629.7 266.0,629.7 266.5,629.8 267.0,629.9 267.5,630.0 268.0,630.0 268.6,630.0 269.1,630.0 269.6,630.0 270.1,629.9 270.6,629.8 271.1,629.9 271.6,629.9 272.2,629.8 272.7,629.8 273.2,629.9 273.7,630.1 274.2,630.0 274.7,629.8 275.3,629.9 275.8,630.0 276.3,630.0 276.8,629.8 277.3,629.7 277.8,629.8 278.4,629.9 278.9,629.8 279.4,629.7 279.9,629.9 280.4,630.0 280.9,629.9 281.5,630.0 282.0,630.1 282.5,630.2 283.0,630.1 283.5,630.0 284.0,630.1 284.5,630.1 285.1,630.0 285.6,630.0 286.1,629.9 286.6,629.9 287.1,630.1 287.6,630.0 288.2,629.9 288.7,629.9 289.2,629.8 289.7,629.8 290.2,629.8 290.7,629.9 291.3,630.0 291.8,630.0 292.3,629.9 292.8,629.9 293.3,629.9 293.8,629.8 294.4,629.8 294.9,629.8 295.4,629.9 295.9,629.9 296.4,629.8 296.9,629.8 297.4,629.8 298.0,629.8 298.5,629.9 299.0,629.9 299.5,629.8 300.0,629.9 300.5,629.9 301.1,629.9 301.6,629.9 302.1,629.9 302.6,629.8 303.1,629.7 303.6,629.6 304.2,629.5 304.7,629.4 305.2,629.4 305.7,629.3 306.2,629.1 306.7,629.1 307.3,629.0 307.8,629.1 308.3,629.2 308.8,629.4 309.3,629.6 309.8,629.6 310.3,629.7 310.9,629.8 311.4,629.9 311.9,629.7 312.4,629.7 312.9,629.9 313.4,630.1 314.0,630.1 314.5,630.1 315.0,630.1 315.5,630.0 316.0,630.0 316.5,629.9 317.1,629.9 317.6,630.0 318.1,629.9 318.6,629.8 319.1,629.9 319.6,629.8 320.2,629.8 320.7,629.9 321.2,629.8 321.7,629.7 322.2,629.8 322.7,629.9 323.2,629.8 323.8,629.8 324.3,629.9 324.8,629.9 325.3,629.7 325.8,629.8 326.3,629.9 326.9,629.9 327.4,629.8 327.9,629.8 328.4,629.9 328.9,630.0 329.4,629.9 330.0,629.8 330.5,629.9 331.0,629.9 331.5,629.9 332.0,629.8 332.5,629.8 333.1,629.8 333.6,629.8 334.1,629.8 334.6,629.8 335.1,629.8 335.6,629.8 336.1,629.7 336.7,629.8 337.2,629.9 337.7,629.9 338.2,629.9 338.7,629.7 339.2,629.7 339.8,629.8 340.3,630.0 340.8,630.1 341.3,629.9 341.8,629.8 342.3,629.8 342.9,629.6 343.4,629.6 343.9,629.7 344.4,629.6 344.9,629.5 345.4,629.6 346.0,629.7 346.5,629.8 347.0,629.8 347.5,629.7 348.0,629.8 348.5,630.0 349.0,630.1 349.6,630.0 350.1,629.9 350.6,629.9 351.1,629.9 351.6,630.0 352.1,630.0 352.7,629.9 353.2,629.9 353.7,629.9 354.2,629.9 354.7,629.8 355.2,629.7 355.8,629.8 356.3,629.8 356.8,629.6 357.3,629.5 357.8,629.5 358.3,629.4 358.9,629.3 359.4,629.2 359.9,629.3 360.4,629.3 360.9,629.5 361.4,629.6 361.9,629.8 362.5,630.0 363.0,630.1 363.5,630.0 364.0,629.9 364.5,629.8 365.0,629.7 365.6,629.7 366.1,629.7 366.6,629.7 367.1,629.7 367.6,629.7 368.1,629.6 368.7,629.6 369.2,629.6 369.7,629.7 370.2,629.8 370.7,629.8 371.2,629.8 371.8,629.7 372.3,629.7 372.8,629.7 373.3,629.9 373.8,629.9 374.3,629.7 374.8,629.6 375.4,629.6 375.9,629.5 376.4,629.6 376.9,629.7 377.4,629.7 377.9,629.7 378.5,629.7 379.0,629.7 379.5,629.7 380.0,629.7 380.5,629.7 381.0,629.7 381.6,629.8 382.1,629.9 382.6,629.9 383.1,629.9 383.6,629.8 384.1,629.7 384.7,629.6 385.2,629.6 385.7,629.7 386.2,629.8 386.7,629.7 387.2,629.7 387.7,629.7 388.3,629.7 388.8,629.8 389.3,629.7 389.8,629.7 390.3,629.8 390.8,629.8 391.4,629.7 391.9,629.5 392.4,629.5 392.9,629.6 393.4,629.7 393.9,629.7 394.5,629.6 395.0,629.7 395.5,629.9 396.0,629.8 396.5,629.8 397.0,629.9 397.6,629.9 398.1,629.8 398.6,629.7 399.1,629.6 399.6,629.6 400.1,629.7 400.6,629.8 401.2,629.9 401.7,629.9 402.2,629.9 402.7,629.8 403.2,629.6 403.7,629.5 404.3,629.6 404.8,629.6 405.3,629.6 405.8,629.6 406.3,629.5 406.8,629.5 407.4,629.5 407.9,629.5 408.4,629.5 408.9,629.4 409.4,629.3 409.9,629.2 410.5,629.3 411.0,629.2 411.5,629.1 412.0,629.0 412.5,629.0 413.0,628.8 413.5,628.6 414.1,628.6 414.6,628.4 415.1,628.2 415.6,628.2 416.1,628.2 416.6,628.1 417.2,628.1 417.7,628.2 418.2,628.1 418.7,628.1 419.2,628.3 419.7,628.4 420.3,628.5 420.8,628.5 421.3,628.6 421.8,628.8 422.3,628.8 422.8,628.8 423.4,628.8 423.9,628.8 424.4,628.8 424.9,628.9 425.4,629.0 425.9,629.0 426.4,629.0 427.0,629.1 427.5,629.2 428.0,629.1 428.5,629.0 429.0,629.0 429.5,629.0 430.1,629.0 430.6,629.0 431.1,629.1 431.6,629.1 432.1,628.9 432.6,628.8 433.2,628.8 433.7,629.0 434.2,629.2 434.7,629.3 435.2,629.2 435.7,629.2 436.3,629.3 436.8,629.3 437.3,629.3 437.8,629.5 438.3,629.7 438.8,629.6 439.3,629.4 439.9,629.4 440.4,629.4 440.9,629.4 441.4,629.4 441.9,629.5 442.4,629.6 443.0,629.5 443.5,629.4 444.0,629.4 444.5,629.4 445.0,629.5 445.5,629.6 446.1,629.6 446.6,629.6 447.1,629.6 447.6,629.5 448.1,629.4 448.6,629.2 449.2,629.2 449.7,629.4 450.2,629.5 450.7,629.4 451.2,629.3 451.7,629.2 452.2,629.1 452.8,629.1 453.3,629.2 453.8,629.1 454.3,629.0 454.8,629.1 455.3,629.1 455.9,629.1 456.4,629.1 456.9,629.3 457.4,629.3 457.9,629.3 458.4,629.5 459.0,629.5 459.5,629.5 460.0,629.5 460.5,629.4 461.0,629.4 461.5,629.5 462.1,629.6 462.6,629.6 463.1,629.6 463.4,629.6 464.0,600.0 465.2,400.0 466.6,75.5 467.0,300.0 467.4,420.0 467.8,505.0 468.5,519.5 469.3,510.0 470.3,505.0 471.2,505.8 472.0,508.0 475.0,516.0 478.3,526.0 481.0,535.0 484.2,549.0 485.0,500.0 485.9,380.0 486.9,75.5 487.0,300.0 487.3,472.0 488.6,486.0 490.2,495.5 491.7,507.0 494.6,523.3 499.5,547.0 504.5,571.0 505.3,520.0 506.5,380.0 507.3,75.5 507.4,300.0 507.7,440.0 508.3,472.0 509.3,495.0 510.3,507.0 511.5,516.2 512.0,521.1 512.5,525.7 513.0,530.2 513.5,534.3 514.0,538.0 514.5,541.3 515.0,544.3 515.5,547.0 516.0,549.6 516.5,552.1 517.0,554.4 517.5,556.7 518.0,559.1 518.5,561.4 519.0,563.8 519.5,566.1 520.0,568.4 520.5,570.5 521.0,572.5 521.5,574.4 522.0,576.2 522.5,578.0 523.0,579.7 523.5,581.3 524.0,582.8 524.5,584.3 525.0,585.7 525.5,587.0 526.0,588.3 526.5,589.6 527.0,590.8 527.5,591.9 528.0,593.0 528.5,594.1 529.0,595.1 529.5,596.1 530.0,597.0 530.5,597.9 531.0,598.7 531.5,599.5 532.0,600.2 532.5,600.9 533.0,601.6 533.5,602.3 534.0,602.9 534.5,603.5 535.0,604.1 535.5,604.7 536.0,605.3 536.5,605.9 537.0,606.5 537.5,607.0 538.0,607.6 538.5,608.2 539.0,608.7 539.5,609.3 540.0,609.8 540.5,610.3 541.0,610.8 541.5,611.3 542.0,611.7 542.5,612.1 543.0,612.5 543.5,612.9 544.0,613.3 544.5,613.6 545.0,614.0 545.5,614.3 546.0,614.6 546.5,614.9 547.0,615.2 547.5,615.5 548.0,615.8 548.5,616.1 549.0,616.4 549.5,616.6 550.0,616.9 550.5,617.1 551.0,617.3 551.5,617.6 552.0,617.8 552.5,618.0 553.0,618.2 553.5,618.4 554.0,618.6 554.5,618.7 555.0,618.9 555.5,619.1 556.0,619.2 556.5,619.4 557.0,619.6 557.5,619.7 558.0,619.9 558.5,620.0 559.0,620.2 559.5,620.3 560.0,620.4 560.5,620.6 561.0,620.7 561.5,620.8 562.0,621.0 562.5,621.1 563.0,621.2 563.5,621.3 564.0,621.4 564.5,621.5 565.0,621.6 565.5,621.8 566.0,621.9 566.5,622.0 567.0,622.1 567.5,622.2 568.0,622.3 568.5,622.4 569.0,622.5 569.5,622.6 570.0,622.7 570.5,622.8 571.0,622.9 571.5,623.0 572.0,623.0 572.5,623.1 573.0,623.2 573.5,623.3 574.0,623.4 574.5,623.5 575.0,623.6 575.5,623.6 576.0,623.7 576.5,623.9 577.0,624.0 577.5,624.2 578.0,624.3 578.5,624.4 579.0,624.5 579.5,624.6 580.0,624.7 580.5,624.9 581.0,625.0 581.5,625.2 582.0,625.3 582.5,625.4 583.0,625.5 583.5,625.6 584.0,625.7 584.5,625.8 585.0,625.9 585.5,626.0 586.0,626.1 586.5,626.2 587.0,626.3 587.5,626.4 588.0,626.4 588.5,626.5 589.0,626.5 589.5,626.6 590.0,626.7 590.5,626.7 591.0,626.8 591.5,626.9 592.0,626.9 592.5,626.9 593.0,626.9 593.5,626.9 594.0,627.0 594.5,627.0 595.0,627.1 595.5,627.2 596.0,627.3 596.5,627.4 597.0,627.5 597.5,627.5 598.0,627.4 598.5,627.4 599.0,627.6 599.5,627.8 600.0,627.9 600.5,628.0 601.0,627.9 601.5,627.9 602.0,628.0 602.5,628.1 603.0,628.1 603.5,628.2 604.0,628.2 604.5,628.1 605.0,628.1 605.5,628.3 606.0,628.5 606.5,628.8 607.0,628.8 607.5,628.7 608.0,628.5 608.5,628.4 609.0,628.3 609.5,628.3 610.0,628.4 610.5,628.5 611.0,628.7 611.5,628.8 612.0,628.7 612.5,628.6 613.0,628.5 613.5,628.5 614.0,628.7 614.5,628.8 615.0,629.0 615.5,629.0 616.0,628.9 616.5,628.9 617.0,628.9 617.5,629.0 618.0,629.2 618.5,629.3 619.0,629.3 619.5,629.3 620.0,629.4 620.5,629.4 621.0,629.4 621.5,629.3 622.0,629.4 622.5,629.5 623.0,629.5 623.5,629.6 624.0,629.7 624.5,629.8 625.0,629.8 625.5,629.8 626.0,629.8 626.5,629.8 627.0,629.8 627.5,629.8 628.0,629.7 628.5,629.7 629.0,629.6 629.5,629.6 630.0,629.6 630.5,629.7 631.0,629.8 631.5,630.0 632.0,630.1 632.5,630.1 633.0,630.1 633.5,630.0 634.0,629.9 634.5,629.9 635.0,630.0 635.5,630.2 636.0,630.3 636.5,630.2 637.0,630.1 637.5,630.1 638.0,630.1 638.5,630.1 639.0,630.0 639.5,630.0 640.0,630.0 640.5,630.1 641.0,630.2 641.5,630.2 642.0,630.1 642.5,630.1 643.0,630.1 643.5,630.1 644.0,630.0 644.5,630.0 645.0,630.0 645.5,630.1 646.0,630.2 646.5,630.3 647.0,630.2 647.5,630.2 648.0,630.3 648.5,630.3 649.0,630.3 649.5,630.4 650.0,630.5 650.5,630.5 651.0,630.4 651.5,630.3 652.0,630.2 652.5,630.2 653.0,630.2 653.5,630.2 654.0,630.3 654.5,630.4 655.0,630.4 655.5,630.4 656.0,630.5 656.5,630.5 657.0,630.5 657.5,630.5 658.0,630.4 658.5,630.5 659.0,630.5 659.5,630.6 660.0,630.5 660.5,630.3 661.0,630.3 661.5,630.3 662.0,630.5 662.5,630.5 663.3,630.6 663.8,630.6 664.3,630.6 664.8,630.5 665.4,630.5 665.9,630.6 666.4,630.7 666.9,630.7 667.4,630.7 667.9,630.8 668.5,630.7 669.0,630.7 669.5,630.8 670.0,630.8 670.5,630.7 671.0,630.5 671.5,630.5 672.1,630.6 672.6,630.7 673.1,630.6 673.6,630.5 674.1,630.5 674.6,630.5 675.2,630.5 675.7,630.5 676.2,630.4 676.7,630.3 677.2,630.1 677.7,630.1 678.3,630.1 678.8,630.2 679.3,630.4 679.8,630.4 680.3,630.3 680.8,630.2 681.4,630.2 681.9,630.2 682.4,630.3 682.9,630.3 683.4,630.3 683.9,630.2 684.4,630.1 685.0,630.1 685.5,630.2 686.0,630.3 686.5,630.3 687.0,630.3 687.5,630.4 688.1,630.5 688.6,630.4 689.1,630.3 689.6,630.4 690.1,630.4 690.6,630.4 691.2,630.6 691.7,630.6 692.2,630.5 692.7,630.5 693.2,630.6 693.7,630.6 694.3,630.7 694.8,630.7 695.3,630.8 695.8,630.8 696.3,630.8 696.8,630.9 697.3,630.9 697.9,631.0 698.4,631.0 698.9,631.0 699.4,631.0 699.9,631.0 700.4,630.9 701.0,630.9 701.5,630.9 702.0,631.0 702.5,631.0 703.0,630.9 703.5,631.0 704.1,631.0 704.6,631.0 705.1,631.1 705.6,631.1 706.1,631.1 706.6,631.1 707.2,631.0 707.7,631.0 708.2,631.1 708.7,631.0 709.2,631.0 709.7,631.0 710.2,630.9 710.8,630.9 711.3,631.1 711.8,631.1 712.3,631.0 712.8,630.9 713.3,631.0 713.9,630.9 714.4,630.8 714.9,630.9 715.4,630.9 715.9,631.0 716.4,631.1 717.0,631.0 717.5,631.0 718.0,630.9 718.5,630.8 719.0,630.9 719.5,630.9 720.1,630.9 720.6,630.9 721.1,631.0 721.6,631.2 722.1,631.3 722.6,631.1 723.1,631.1 723.7,631.1 724.2,631.2 724.7,631.2 725.2,631.1 725.7,631.1 726.2,631.1 726.8,631.1 727.3,631.1 727.8,631.1 728.3,631.1 728.8,631.1 729.3,631.1 729.9,631.1 730.4,631.0 730.9,631.0 731.4,631.0 731.9,631.0 732.4,630.9 733.0,631.0 733.5,630.9 734.0,630.8 734.5,630.8 735.0,630.8 735.5,630.8 736.0,630.7 736.6,630.6 737.1,630.7 737.6,630.8 738.1,630.8 738.6,630.7 739.1,630.7 739.7,630.6 740.2,630.7 740.7,630.8 741.2,630.9 741.7,630.9 742.2,630.8 742.8,630.8 743.3,630.8 743.8,631.0 744.3,631.1 744.8,631.0 745.3,630.9 745.9,630.9 746.4,630.9 746.9,631.0 747.4,630.9 747.9,630.9 748.4,631.0 748.9,631.1 749.5,631.1 750.0,630.9 750.5,631.0 751.0,631.1 751.5,630.9 752.0,630.9 752.6,631.1 753.1,631.1 753.6,630.9 754.1,630.9 754.6,631.1 755.1,631.1 755.7,630.9 756.2,630.8 756.7,631.0 757.2,631.0 757.7,631.0 758.2,631.0 758.8,630.9 759.3,630.9 759.8,631.1 760.3,631.0 760.8,630.8 761.3,630.9 761.8,631.0 762.4,630.9 762.9,630.8 763.4,630.9 763.9,631.0 764.4,630.9 764.9,630.9 765.5,630.9 766.0,631.0 766.5,631.0 767.0,631.0 767.5,631.0 768.0,631.1 768.6,631.2 769.1,631.1 769.6,631.1 770.1,631.1 770.6,631.2 771.1,631.2 771.7,631.2 772.2,631.3 772.7,631.2 773.2,631.0 773.7,631.0 774.2,631.1 774.7,631.0 775.3,630.9 775.8,630.7 776.3,630.7 776.8,630.9 777.3,631.0 777.8,630.9 778.4,630.8 778.9,630.9 779.4,630.8 779.9,630.8 780.4,630.8 780.9,630.7 781.5,630.6 782.0,630.6 782.5,630.6 783.0,630.6 783.5,630.8 784.0,630.9 784.6,630.9 785.1,630.9 785.6,630.8 786.1,630.8 786.6,630.9 787.1,630.9 787.6,630.9 788.2,630.8 788.7,630.9 789.2,630.9 789.7,630.9 790.2,631.1 790.7,631.1 791.3,631.0 791.8,630.8 792.3,630.7 792.8,630.8 793.3,630.8 793.8,630.7 794.4,630.8 794.9,630.9 795.4,630.8 795.9,630.7 796.4,630.8 796.9,630.8 797.5,630.7 798.0,630.8 798.5,630.9 799.0,630.9 799.5,630.8 800.0,630.7 800.5,630.6 801.1,630.6 801.6,630.7 802.1,630.6 802.6,630.7 803.1,630.8 803.6,630.7 804.2,630.4 804.7,630.3 805.2,630.4 805.7,630.5 806.2,630.6 806.7,630.5 807.3,630.3 807.8,630.3 808.3,630.3 808.8,630.3 809.3,630.3 809.8,630.3 810.4,630.4 810.9,630.3 811.4,630.1 811.9,630.0 812.4,630.2 812.9,630.2 813.4,630.2 814.0,630.2 814.5,630.2 815.0,630.3 815.5,630.3 816.0,630.2 816.5,630.2 817.1,630.2 817.6,630.2 818.1,630.2 818.6,630.1 819.1,630.3 819.6,630.4 820.2,630.4 820.7,630.4 821.2,630.3 821.7,630.2 822.2,630.1 822.7,630.2 823.3,630.3 823.8,630.3 824.3,630.3 824.8,630.3 825.3,630.2 825.8,630.2 826.3,630.2 826.9,630.3 827.4,630.3 827.9,630.3 828.4,630.2 828.9,630.1 829.4,630.1 830.0,630.2 830.5,630.2 831.0,630.1 831.5,630.3 832.0,630.5 832.5,630.4 833.1,630.3 833.6,630.4 834.1,630.5 834.6,630.5 835.1,630.5 835.6,630.5 836.2,630.6 836.7,630.8 837.2,630.7 837.7,630.5 838.2,630.6 838.7,630.6 839.2,630.7 839.8,630.7 840.3,630.6 840.8,630.6 841.3,630.6 841.8,630.7 842.3,630.6 842.9,630.5 843.4,630.5 843.9,630.6 844.4,630.6 844.9,630.5 845.4,630.6 846.0,630.6 846.5,630.5 847.0,630.4 847.5,630.5 848.0,630.4 848.5,630.3 849.1,630.3 849.6,630.3 850.1,630.4 850.6,630.5 851.1,630.5 851.6,630.5 852.1,630.6 852.7,630.8 853.2,630.9 853.7,630.8 854.2,630.6 854.7,630.7 855.2,630.8 855.8,630.8 856.3,630.8 856.8,630.8 857.3,630.8 857.8,630.9 858.3,630.9 858.9,630.9 859.4,630.8 859.9,630.8 860.4,630.9 860.9,630.9 861.4,631.0 862.0,631.0 862.5,631.0 863.0,630.8 863.5,630.7 864.0,630.8 864.5,630.9 865.0,630.9 865.6,630.8 866.1,630.8 866.6,630.8 867.1,631.0 867.6,631.0 868.1,630.9 868.7,630.9 869.2,631.0 869.7,631.0 870.2,631.1 870.7,631.0 871.2,631.0 871.8,631.2 872.3,631.2 872.8,631.2 873.3,631.2 873.8,631.3 874.3,631.4 874.9,631.3 875.4,631.2 875.9,631.4 876.4,631.6 876.9,631.8 877.4,631.8 877.9,631.7 878.5,631.7 879.0,631.7 879.5,631.7 880.0,631.8 880.5,631.7 881.0,631.7 881.6,631.8 882.1,632.0 882.6,632.1 883.1,632.1 883.6,631.9 884.1,631.9 884.7,631.8 885.2,631.8 885.7,631.8 886.2,632.0 886.7,632.0 887.2,631.9 887.8,631.9 888.3,632.0 888.8,632.0 889.3,631.9 889.8,631.8 890.3,631.8 890.8,631.9 891.4,631.9 891.9,631.8 892.4,631.8 892.9,631.9 893.4,631.9 893.9,631.9 894.5,632.0 895.0,632.0 895.5,632.1 896.0,632.0 896.5,631.9 897.0,631.8 897.6,631.8 898.1,632.0 898.6,632.1 899.1,632.2 899.6,632.2 900.1,632.0 900.7,632.0 901.2,632.0 901.7,632.0 902.2,631.9 902.7,631.9 903.2,631.9 903.7,631.9 904.3,631.9 904.8,631.9 905.3,632.0 905.8,632.0 906.3,632.0 906.8,631.9 907.4,632.0 907.9,632.1 908.4,632.1 908.9,632.0 909.4,632.0 909.9,631.9 910.5,632.1 911.0,632.1 911.5,632.1 912.0,632.1 912.5,632.0 913.0,632.0 913.6,632.1 914.1,632.1 914.6,632.2 915.1,632.1 915.6,632.1 916.1,632.1 916.6,631.8 917.2,631.8 917.7,632.0 918.2,632.0 918.7,632.1 919.2,632.1 919.7,632.0 920.3,631.8 920.8,631.7 921.3,631.9 921.8,631.9 922.3,632.0 922.8,632.0 923.4,632.0 923.9,632.1 924.4,632.2 924.9,632.1 925.4,631.9 925.9,631.9 926.5,631.9 927.0,631.9 927.5,631.9 928.0,632.0 928.5,632.0 929.0,632.0 929.5,632.0 930.1,632.0 930.6,631.9 931.1,631.6 931.6,631.7 932.1,631.9 932.6,631.9 933.2,631.9 933.7,631.8 934.2,631.8 934.7,631.9 935.2,631.8 935.7,631.8 936.3,631.8 936.8,631.9 937.3,631.8 937.8,631.8 938.3,631.9 938.8,631.9 939.4,632.0 939.9,632.0 940.4,632.1 940.9,632.0 941.4,631.8 941.9,631.7 942.4,631.7 943.0,631.8 943.5,631.8 944.0,631.7 944.5,631.5 945.0,631.4 945.5,631.5 946.1,631.5 946.6,631.4 947.1,631.4 947.6,631.4 948.1,631.3 948.6,631.2 949.2,631.2 949.7,631.1 950.2,631.1 950.7,631.3 951.2,631.3 951.7,631.1 952.3,631.0 952.8,631.1 953.3,631.2 953.8,631.1 954.3,631.0 954.8,630.9 955.3,631.0 955.9,631.1 956.4,631.2 956.9,631.1 957.4,631.0 957.9,631.0 958.4,631.0 959.0,631.0 959.5,631.0 960.0,631.2 960.5,631.1 961.0,631.0 961.5,631.0 962.1,630.9 962.6,630.8 963.1,630.9 963.6,631.1 964.1,631.2 964.6,631.2 965.2,631.0 965.7,630.9 966.2,630.9 966.7,630.9 967.2,630.9 967.7,630.9 968.2,630.8 968.8,630.7 969.3,630.6 969.8,630.5 970.3,630.5 970.8,630.5 971.3,630.7 971.9,630.6 972.4,630.6 972.9,630.7 973.4,630.6 973.9,630.5 974.4,630.5 975.0,630.4 975.5,630.3 976.0,630.3 976.5,630.1 977.0,630.1 977.5,630.2 978.1,630.3 978.6,630.3 979.1,630.3 979.6,630.4 980.1,630.5 980.6,630.6 981.1,630.6 981.7,630.5 982.2,630.5 982.7,630.6 983.2,630.6 983.7,630.7 984.2,630.9 984.8,630.8 985.3,630.8 985.8,631.0 986.3,631.1 986.8,631.1 987.3,631.1 987.9,631.0 988.4,630.9 988.9,631.0 989.4,631.1 989.9,631.2 990.4,631.1 991.0,631.1 991.5,631.0 992.0,631.0 992.5,631.2 993.0,631.2 993.5,631.0 994.0,631.0 994.6,631.0 995.1,631.1 995.6,631.2 996.1,631.2 996.6,631.0 997.1,631.0 997.7,630.9 998.2,631.0 998.7,631.1 999.2,631.1 999.7,631.0 1000.2,631.0 1000.8,631.0 1001.3,631.1 1001.8,630.9 1002.3,630.8 1002.8,630.9 1003.3,630.9 1003.9,630.9 1004.4,631.0 1004.9,631.0 1005.4,631.0 1005.9,631.1 1006.4,631.2 1006.9,631.2 1007.5,631.1 1008.0,631.0 1008.5,631.0 1009.0,631.2 1009.5,631.2 1010.0,631.2 1010.6,631.2 1011.1,631.2 1011.6,631.1 1012.1,631.2 1012.6,631.5 1013.1,631.5 1013.7,631.4 1014.2,631.5 1014.7,631.5 1015.2,631.4 1015.7,631.5 1016.2,631.7 1016.8,631.6 1017.3,631.6 1017.8,631.6 1018.3,631.5 1018.8,631.5 1019.3,631.6 1019.8,631.6 1020.4,631.5 1020.9,631.4 1021.4,631.4 1021.9,631.4 1022.4,631.4 1022.9,631.3 1023.5,631.1 1024.0,630.9 1024.5,631.0 1025.0,630.9 1025.5,630.6 1026.0,630.4 1026.6,630.4 1027.1,630.3 1027.6,630.1 1028.1,629.9 1028.6,629.9 1029.1,629.7 1029.7,629.5 1030.2,629.2 1030.7,629.1 1031.2,629.1 1031.7,629.0 1032.2,628.8 1032.7,628.6 1033.3,628.6 1033.8,628.8 1034.3,628.8 1034.8,629.0 1035.3,629.1 1035.8,629.3 1036.4,629.4 1036.9,629.6 1037.4,629.6 1037.9,629.9 1038.4,630.2 1038.9,630.1 1039.5,630.3 1040.0,630.5 1040.5,630.5 1041.0,630.5 1041.5,630.5 1042.0,630.7 1042.6,630.9 1043.1,630.9 1043.6,630.8 1044.1,630.8 1044.6,630.7 1045.1,630.7 1045.6,630.7 1046.2,630.7 1046.7,630.8 1047.2,630.8 1047.7,630.7 1048.2,630.7 1048.7,630.6 1049.3,630.5 1049.8,630.5 1050.3,630.4 1050.8,630.5 1051.3,630.5 1051.8,630.5 1052.4,630.5 1052.9,630.4 1053.4,630.3 1053.9,630.2 1054.4,630.2 1054.9,630.2 1055.5,630.2 1056.0,630.2 1056.5,630.2 1057.0,630.0 1057.5,630.0 1058.0,630.1 1058.5,630.2 1059.1,630.3 1059.6,630.3 1060.1,630.4 1060.6,630.3 1061.1,630.2 1061.6,630.2 1062.2,630.2 1062.7,630.3 1063.2,630.4 1063.7,630.5 1064.2,630.5 1064.7,630.6 1065.3,630.7 1065.8,630.7 1066.3,630.8 1066.8,630.8 1067.3,630.7 1067.8,630.8 1068.4,630.9 1068.9,631.0 1069.4,630.9 1069.9,631.0 1070.4,631.2 1070.9,631.1 1071.4,631.0 1072.0,631.0 1072.5,631.0 1073.0,631.1 1073.5,631.3 1074.0,631.3 1074.5,631.2 1075.1,631.2 1075.6,631.2 1076.1,631.1 1076.6,631.1 1077.1,631.0 1077.6,631.0 1078.2,631.1 1078.7,631.0 1079.2,630.9 1079.7,630.7 1080.2,630.9 1080.7,631.1 1081.3,630.9 1081.8,630.7 1082.3,630.6 1082.8,630.7 1083.3,630.7 1083.8,630.8 1084.3,630.9 1084.9,631.1 1085.4,631.1 1085.9,631.1 1086.4,631.2 1086.9,631.4 1087.4,631.4 1088.0,631.6 1088.5,631.9 1089.0,632.0 1089.5,632.1 1090.0,632.3 1090.5,632.5 1091.1,632.4 1091.6,632.4 1092.1,632.3 1092.6,632.2 1093.1,632.3 1093.6,632.4 1094.2,632.5 1094.7,632.6 1095.2,632.5 1095.7,632.4 1096.2,632.4 1096.7,632.2 1097.2,632.1 1097.8,632.1 1098.3,632.2 1098.8,632.2 1099.3,632.3 1099.8,632.4 1100.3,632.4 1100.9,632.3 1101.4,632.2 1101.9,632.2 1102.4,632.2 1102.9,632.1 1103.4,632.2 1104.0,632.2 1104.5,632.3 1105.0,632.3 1105.5,632.3 1106.0,632.1 1106.5,632.1 1107.1,632.1 1107.6,632.1 1108.1,632.1 1108.6,632.2 1109.1,632.3 1109.6,632.2 1110.1,632.1 1110.7,632.1 1111.2,632.2 1111.7,632.3 1112.2,632.3 1112.7,632.3 1113.2,632.3 1113.8,632.4 1114.3,632.3 1114.8,632.2 1115.3,632.1 1115.8,632.2 1116.3,632.2 1116.9,632.2 1117.4,632.2 1117.9,632.3 1118.4,632.3 1118.9,632.1 1119.4,632.1 1120.0,632.2 1120.5,632.3 1121.0,632.3 1121.5,632.3 1122.0,632.3 1122.5,632.4 1123.0,632.4 1123.6,632.3 1124.1,632.2 1124.6,632.2 1125.1,632.3 1125.6,632.3 1126.1,632.3 1126.7,632.2 1127.2,632.0 1127.7,631.9 1128.2,632.0 1128.7,632.1 1129.2,632.1 1129.8,632.1 1130.3,632.1 1130.8,632.1 1131.3,632.0 1131.8,631.9 1132.3,632.0 1132.9,632.1 1133.4,631.9 1133.9,632.0 1134.4,632.1 1134.9,632.1 1135.4,632.0 1135.9,632.0 1136.5,632.1 1137.0,632.1 1137.5,632.0 1138.0,632.1 1138.5,632.1 1139.0,632.2 1139.6,632.2 1140.1,632.0 1140.6,631.9 1141.1,632.1 1141.6,632.3 1142.1,632.2 1142.7,632.2 1143.2,632.2 1143.7,632.1 1144.2,632.1 1144.7,632.0 1145.2,632.0 1145.8,632.1 1146.3,632.1 1146.8,632.0 1147.3,631.9 1147.8,631.9 1148.3,632.0 1148.8,632.0 1149.4,632.0 1149.9,631.9 1150.4,632.0 1150.9,632.1 1151.4,632.1 1151.9,632.1 1152.5,632.1 1153.0,632.0 1153.5,632.0 1154.0,632.1 1154.5,632.2 1155.0,632.2 1155.6,632.0 1156.1,631.9 1156.6,631.9 1157.1,632.1 1157.6,632.3 1158.1,632.3 1158.7,632.2 1159.2,632.2 1159.7,632.2 1160.2,632.2 1160.7,632.2 1161.2,632.0 1161.7,631.9 1162.3,632.0 1162.8,632.1 1163.3,632.1 1163.8,632.0 1164.3,631.9 1164.8,632.0 1165.4,632.0 1165.9,632.0 1166.4,631.7 1166.9,631.6 1167.4,631.7 1167.9,631.7 1168.5,631.8 1169.0,632.0 1169.5,632.0 1170.0,631.9 1170.5,632.0 1171.0,632.1 1171.6,632.0 1172.1,632.0 1172.6,631.9 1173.1,631.8 1173.6,631.9 1174.1,632.0 1174.6,632.1 1175.2,632.0 1175.7,631.9 1176.2,632.0 1176.7,632.1 1177.2,632.1 1177.7,632.1 1178.3,632.0 1178.8,632.0 1179.3,632.0 1179.8,632.0 1180.3,632.0 1180.8,632.1 1181.4,632.2 1181.9,632.0 1182.4,632.0 1182.9,632.1 1183.4,631.9 1183.9,631.8 1184.5,631.8 1185.0,631.9 1185.5,632.0 1186.0,631.9 1186.5,632.0 1187.0,632.1 1187.5,632.0 1188.1,631.8 1188.6,631.9 1189.1,632.0 1189.6,632.0 1190.1,631.9 1190.6,631.8 1191.2,631.8 1191.7,631.7 1192.2,631.8 1192.7,631.8 1193.2,631.8 1193.7,631.7 1194.3,631.7 1194.8,631.6 1195.3,631.7 1195.8,631.7 1196.3,631.7 1196.8,631.6 1197.4,631.6 1197.9,631.5 1198.4,631.4 1198.9,631.4 1199.4,631.5 1199.9,631.5 1200.4,631.5 1201.0,631.5 1201.5,631.6 1202.0,631.6 1202.5,631.6 1203.0,631.6 1203.5,631.6 1204.1,631.5 1204.6,631.6 1205.1,631.6 1205.6,631.7 1206.1,631.8 1206.6,631.7 1207.2,631.6 1207.7,631.6 1208.2,631.6 1208.7,631.7 1209.2,631.8 1209.7,631.7 1210.3,631.7 1210.8,631.8 1211.3,631.7 1211.8,631.8 1212.3,631.9 1212.8,632.0 1213.3,631.9 1213.9,631.8 1214.4,631.7 1214.9,631.8 1215.4,631.8 1215.9,631.8 1216.4,631.7 1217.0,631.7 1217.5,631.8 1218.0,631.9 1218.5,631.9 1219.0,631.8 1219.5,631.6 1220.1,631.6 1220.6,631.6 1221.1,631.7 1221.6,631.8 1222.1,631.8 1222.6,631.9 1223.2,631.9 1223.7,631.9 1224.2,631.9 1224.7,632.0 1225.2,632.2 1225.7,632.4 1226.2,632.4 1226.8,632.6 1227.3,632.7 1227.8,632.7 1228.3,632.7 1228.8,632.8 1229.3,632.8 1229.9,632.8 1230.4,632.8 1230.9,632.8 1231.4,632.8 1231.9,632.8 1232.4,632.8 1233.0,632.8 1233.5,632.8 1234.0,632.8 1234.5,632.8 1235.0,632.8 1235.5,632.8 1236.1,632.8 1236.6,632.8 1237.1,632.8 1237.6,632.8 1238.1,632.8 1238.6,632.8 1239.1,632.8 1239.7,632.8 1240.2,632.8 1240.7,632.8 1241.2,632.8 1241.7,632.8 1242.2,632.8 1242.8,632.8 1243.3,632.8 1243.8,632.8 1244.3,632.8 1244.8,632.8 1245.3,632.8 1245.9,632.8 1246.4,632.8 1246.9,632.8 1247.4,632.8 1247.9,632.8 1248.4,632.8 1249.0,632.8 1249.5,632.8 1250.0,632.8 1250.5,632.8 1251.0,632.8 1251.5,632.8 1252.0,632.8 1252.6,632.8 1253.1,632.8 1253.6,632.8 1254.1,632.8 1254.6,632.8 1255.1,632.8 1255.7,632.8 1256.2,632.8 1256.7,632.8 1257.2,632.8 1257.7,632.8 1258.2,632.8 1258.8,632.8 1259.3,632.8 1259.8,632.8 1260.3,632.8 1260.8,632.8 1261.3,632.8 1261.9,632.8 1262.4,632.8 1262.9,632.8 1263.4,632.8 1263.9,632.8 1264.4,632.8 1264.9,632.8 1265.5,632.8 1266.0,632.8 1266.5,632.8 1267.0,632.8 1267.5,632.8 1268.0,632.8 1268.6,632.8 1269.1,632.8 1269.6,632.8 1270.1,632.8 1270.6,632.8 1271.1,632.8 1271.7,632.8 1272.2,632.8 1272.7,632.8 1273.2,632.8 1273.7,632.8 1274.2,632.8 1274.8,632.8 1275.3,632.8 1275.8,632.8 1276.3,632.8 1276.8,632.8 1277.3,632.8 1277.8,632.8 1278.4,632.8 1278.9,632.8 1279.4,632.8 1279.9,632.8 1280.4,632.8 1280.9,632.8 1282.3,632.9"/>
</g>
<polyline points="154.10,633.50 200.60,633.50 200.60,584.50 211.00,584.50 211.00,633.50 463.65,633.50 463.65,72.90 466.85,72.90 466.85,633.50 484.35,633.50 484.35,72.90 487.50,72.90 487.50,633.50 504.90,633.50 504.90,72.90 508.15,72.90 508.15,633.50 1281.50,633.50" fill="none" stroke="#ff0000" stroke-width="3" stroke-linejoin="round" stroke-linecap="square"/>
<rect class="ax" x="98.0" y="45.0" width="1240.0" height="617.0" stroke-linejoin="miter"/>
</svg></body></html>
